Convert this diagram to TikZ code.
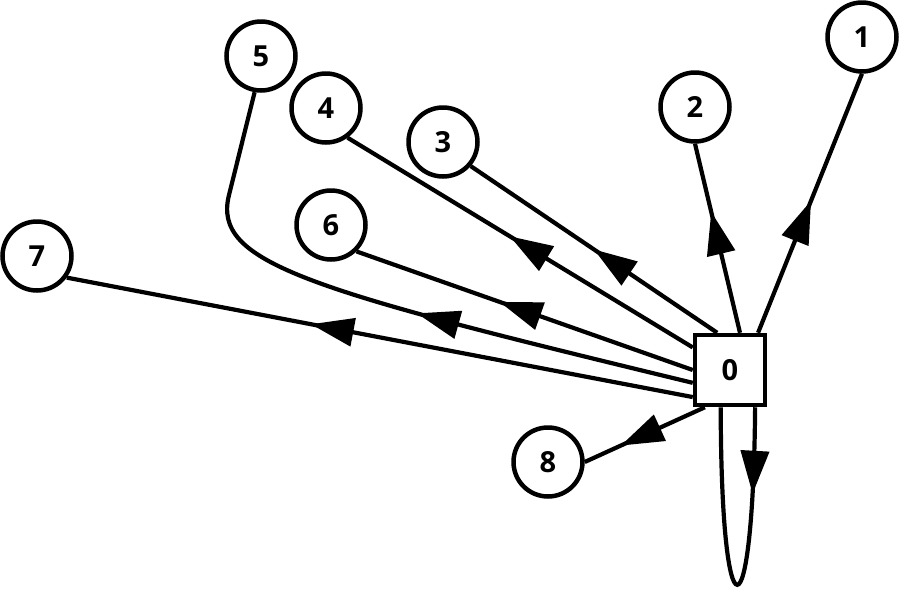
\documentclass[tikz,border=0pt]{standalone}
\usepackage{fontspec}
\setmainfont{Open Sans}
\usetikzlibrary{arrows.meta,decorations.markings}
\tikzset{
  vtx/.style={circle,draw,line width=4.5pt,minimum size=69pt,inner sep=0pt,font=\fontsize{29}{29}\selectfont\bfseries},
  sqbox/.style={rectangle,draw,line width=4.5pt,minimum size=70pt,inner sep=0pt,font=\fontsize{29}{29}\selectfont\bfseries},
  conn/.style={line width=4.2pt},
  midarrow/.style={postaction={decorate},decoration={markings,mark=at position #1 with {\arrow{Triangle[length=43pt,width=28pt]}}}}
}
\begin{document}
\begin{tikzpicture}[x=1pt,y=-1pt]
\useasboundingbox (0,0) rectangle (900,590);
\node[sqbox] (n0) at (730,370) {0};
\node[vtx] (n1) at (862,37) {1};
\node[vtx] (n2) at (695,107) {2};
\node[vtx] (n3) at (443,142) {3};
\node[vtx] (n4) at (326,108) {4};
\node[vtx] (n5) at (261,56) {5};
\node[vtx] (n6) at (331,225) {6};
\node[vtx] (n7) at (37,256) {7};
\node[vtx] (n8) at (548,462) {8};
\draw[conn,midarrow=0.51] (n0.53) -- (n1.south);
\draw[conn,midarrow=0.64] (n0.75) -- (n2.south);
\draw[conn,midarrow=0.50] (n0.109) -- (n3.319);
\draw[conn,midarrow=0.53] (n0) -- (n4.306);
\draw[conn,midarrow=0.45] (n0.199) .. controls (305,289) and (212,263) .. (229,195) -- (n5.260);
\draw[conn,midarrow=0.575] (n0.180) -- (n6.314);
\draw[conn,midarrow=0.61] (n0.216) -- (n7.324);
\draw[conn,midarrow=0.70] (n0.236) -- (n8.east);
\draw[conn,midarrow=0.24] (n0.304) .. controls (753,644) and (721,644) .. (n0.256);
\end{tikzpicture}
\end{document}
